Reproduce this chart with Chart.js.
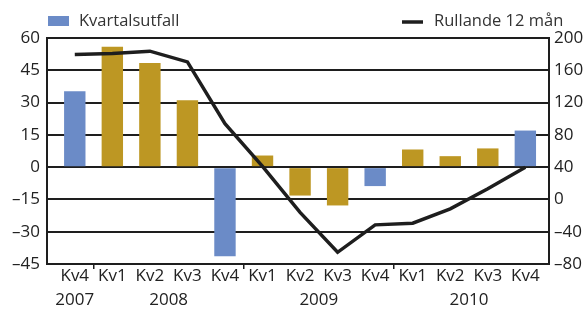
<!DOCTYPE html>
<html>
<head>
<meta charset="utf-8">
<script src="https://cdn.jsdelivr.net/npm/chart.js@4/dist/chart.umd.min.js"></script>
<style>
  html, body { margin: 0; padding: 0; background: #fff; }
  #wrap { width: 585px; height: 309px; position: relative; }
</style>
</head>
<body>
<div id="wrap"><canvas id="c" width="585" height="309"></canvas></div>
<script>
const categories = ['Kv4','Kv1','Kv2','Kv3','Kv4','Kv1','Kv2','Kv3','Kv4','Kv1','Kv2','Kv3','Kv4'];
const years = ['2007','2008','2008','2008','2008','2009','2009','2009','2009','2010','2010','2010','2010'];
const quarterly = [35.3, 55.9, 48.4, 31.1, -41.4, 5.4, -13.2, -17.8, -8.8, 8.2, 5.1, 8.7, 17];
const rolling12 = [179.6, 180.8, 183.7, 170.4, 93.9, 41, -16, -65.5, -31.5, -29.5, -11.7, 13.2, 40];
const leftTicks = [-45, -30, -15, 0, 15, 30, 45, 60];
const rightTicks = [-80, -40, 0, 40, 80, 120, 160, 200];
const seriesNames = ['Kvartalsutfall', 'Rullande 12 mån'];

const BLUE = '#6b8bc7';
const GOLD = '#bd9723';
const INK = '#1e1e1e';
const FONT = '"Open Sans", "DejaVu Sans", sans-serif';

const barColors = categories.map(c => c === 'Kv4' ? BLUE : GOLD);

function fmt(v) { return v < 0 ? '\u2013' + Math.abs(v) : String(v); }

const extras = {
  id: 'extras',
  afterDraw(chart) {
    const ctx = chart.ctx;
    const x = chart.scales.x;
    ctx.save();
    ctx.fillStyle = '#222';
    ctx.font = '17px ' + FONT;
    ctx.textAlign = 'center';
    ctx.textBaseline = 'middle';
    const groups = {};
    years.forEach((y, i) => { (groups[y] = groups[y] || []).push(i); });
    Object.keys(groups).forEach(y => {
      const idx = groups[y];
      const px = (x.getPixelForValue(idx[0]) + x.getPixelForValue(idx[idx.length - 1])) / 2;
      ctx.fillText(y, px, 300);
    });
    ctx.textAlign = 'left';
    ctx.font = '16.5px ' + FONT;
    ctx.fillStyle = BLUE;
    ctx.fillRect(48, 16, 21, 10);
    ctx.fillStyle = '#333';
    ctx.fillText(seriesNames[0], 79, 21);
    ctx.strokeStyle = INK;
    ctx.lineWidth = 3.5;
    ctx.beginPath();
    ctx.moveTo(402, 22);
    ctx.lineTo(423, 22);
    ctx.stroke();
    ctx.fillText(seriesNames[1], 434, 21);
    ctx.restore();
  }
};

new Chart(document.getElementById('c'), {
  data: {
    labels: categories,
    datasets: [
      {
        type: 'line',
        label: seriesNames[1],
        data: rolling12,
        yAxisID: 'y1',
        borderColor: INK,
        borderWidth: 3.5,
        pointRadius: 0,
        tension: 0,
        order: 0
      },
      {
        type: 'bar',
        label: seriesNames[0],
        data: quarterly,
        yAxisID: 'y',
        backgroundColor: barColors,
        barPercentage: 0.57,
        categoryPercentage: 1,
        order: 1
      }
    ]
  },
  options: {
    responsive: false,
    animation: false,
    layout: { padding: { top: 38, left: 0, right: 0, bottom: 0 } },
    plugins: { legend: { display: false }, tooltip: { enabled: false } },
    scales: {
      x: {
        offset: true,
        afterBuildTicks(s) {
          // extra side margins, as in the reference
          s._startValue = -0.74;
          s._valueRange = 13.37;
        },
        grid: {
          display: true,
          drawOnChartArea: false,
          offset: true,
          tickLength: 5,
          lineWidth: 1.5,
          color: ctx => ([1, 5, 9].includes(ctx.index) ? INK : 'rgba(0,0,0,0)')
        },
        border: { display: true, color: INK, width: 2 },
        ticks: {
          color: '#222',
          font: { family: FONT, size: 17 },
          padding: -3,
          maxRotation: 0,
          autoSkip: false
        },
        afterFit(s) { s.height = 45; }
      },
      y: {
        position: 'left',
        min: -45,
        max: 60,
        afterBuildTicks(s) { s.ticks = leftTicks.map(v => ({ value: v })); },
        grid: { color: INK, lineWidth: 2, drawTicks: false },
        border: { display: true, color: INK, width: 2 },
        ticks: {
          color: '#222',
          font: { family: FONT, size: 17 },
          padding: 7,
          callback: v => fmt(v)
        },
        afterFit(s) { s.width = 47; }
      },
      y1: {
        position: 'right',
        min: -80,
        max: 200,
        afterBuildTicks(s) { s.ticks = rightTicks.map(v => ({ value: v })); },
        grid: { drawOnChartArea: false, drawTicks: false },
        border: { display: true, color: INK, width: 2 },
        ticks: {
          color: '#222',
          font: { family: FONT, size: 17 },
          padding: 5,
          callback: v => fmt(v)
        },
        afterFit(s) { s.width = 36; }
      }
    }
  },
  plugins: [extras]
});
</script>
</body>
</html>
